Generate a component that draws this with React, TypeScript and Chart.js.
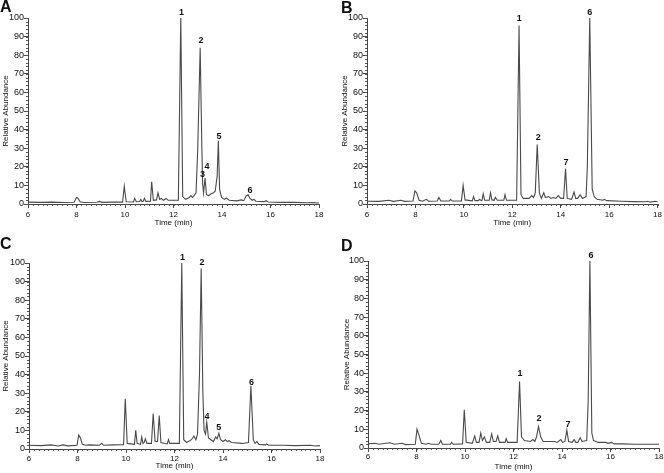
import React, { useEffect, useRef } from "react";
import { Chart, registerables } from "chart.js";

Chart.register(...registerables);

// ---------- Data (Time in min, Relative Abundance in %) ----------
const timeA = [6.0, 6.5, 7.0, 7.5, 7.9, 8.0, 8.05, 8.15, 8.3, 8.85, 8.95, 9.05, 9.5, 9.9, 9.97, 10.05, 10.35, 10.4, 10.47, 10.6, 10.65, 10.7, 10.75, 10.8, 10.86, 11.05, 11.1, 11.17, 11.3, 11.36, 11.43, 11.5, 11.58, 11.7, 11.78, 12.2, 12.3, 12.38, 12.5, 12.65, 12.72, 12.78, 12.85, 12.93, 13.0, 13.1, 13.17, 13.2, 13.24, 13.3, 13.36, 13.45, 13.55, 13.65, 13.72, 13.8, 13.85, 13.9, 13.98, 14.1, 14.17, 14.3, 14.6, 14.8, 14.9, 15.0, 15.08, 15.15, 15.25, 15.32, 15.4, 15.75, 15.82, 15.9, 16.5, 17.0, 17.5, 17.8, 17.9, 18.0];
const abundanceA = [1.0, 0.9, 1.0, 0.8, 0.9, 3.5, 3.2, 1.2, 0.8, 0.9, 1.4, 0.9, 1.0, 1.0, 9.5, 1.2, 1.1, 3.0, 1.2, 1.3, 2.5, 1.3, 1.5, 3.0, 1.4, 1.5, 12, 2.0, 2.2, 6, 2.5, 3.0, 2.0, 3.0, 2.0, 2.0, 100, 4, 2.5, 3.5, 4.5, 3.5, 4.5, 6, 30, 84, 30, 11, 6, 14, 5, 4.5, 5.5, 6, 7, 15, 34, 8, 3.5, 2.5, 3.2, 2.0, 1.7, 2.2, 1.8, 4.5, 5, 3, 2, 2.5, 1.5, 1.3, 1.8, 1.1, 0.9, 0.9, 0.7, 0.8, 0.5, 0.5];

const timeB = [6.0, 6.5, 6.9, 7.1, 7.4, 7.55, 7.9, 7.98, 8.05, 8.15, 8.3, 8.45, 8.55, 8.9, 8.97, 9.05, 9.4, 9.45, 9.52, 9.9, 9.97, 10.05, 10.35, 10.4, 10.46, 10.6, 10.65, 10.72, 10.75, 10.8, 10.86, 11.05, 11.1, 11.16, 11.25, 11.3, 11.38, 11.65, 11.7, 11.76, 12.18, 12.28, 12.36, 12.45, 12.6, 12.7, 12.8, 12.88, 12.95, 13.03, 13.12, 13.2, 13.3, 13.37, 13.5, 13.6, 13.7, 13.8, 13.9, 14.0, 14.12, 14.2, 14.27, 14.45, 14.55, 14.62, 14.7, 14.8, 14.9, 15.05, 15.1, 15.2, 15.3, 15.38, 15.5, 15.75, 15.8, 15.9, 16.5, 17.0, 17.5, 17.6, 17.7, 17.9, 18.0];
const abundanceB = [1.5, 1.4, 2.0, 1.4, 2.0, 1.4, 1.6, 7, 6, 2.0, 1.5, 2.5, 1.5, 1.6, 3.5, 1.6, 1.6, 2.5, 1.6, 1.7, 10, 2.2, 1.7, 4, 1.8, 1.8, 2.5, 1.8, 2, 5.5, 2, 2, 6, 2.2, 2, 3.5, 2, 2, 5, 2, 2, 96, 5, 3, 3, 3, 4.5, 3.5, 6, 32, 6, 3, 6, 3.5, 4, 3, 3.5, 3, 4.5, 3, 3, 19, 3, 2.5, 6.5, 3, 3, 5, 3, 4, 20, 100, 8, 4, 2.5, 2, 2.5, 1.8, 1.5, 1.3, 1.2, 1.5, 1.0, 1.5, 1.2];

const timeC = [6.0, 6.5, 6.9, 7.2, 7.4, 7.6, 7.98, 8.05, 8.12, 8.2, 8.35, 8.5, 8.9, 9.0, 9.08, 9.45, 9.9, 9.97, 10.05, 10.35, 10.4, 10.46, 10.6, 10.65, 10.7, 10.75, 10.8, 10.86, 11.05, 11.12, 11.2, 11.3, 11.37, 11.44, 11.6, 11.7, 11.75, 11.8, 12.2, 12.3, 12.38, 12.5, 12.7, 12.8, 12.88, 12.95, 13.03, 13.1, 13.17, 13.22, 13.28, 13.33, 13.4, 13.5, 13.6, 13.7, 13.76, 13.83, 13.9, 14.0, 14.1, 14.17, 14.25, 14.35, 14.8, 15.05, 15.15, 15.25, 15.32, 15.4, 15.48, 15.75, 15.8, 15.88, 16.5, 17.0, 17.6, 17.8, 18.0];
const abundanceC = [2.0, 1.8, 2.2, 1.6, 2.2, 1.7, 2.0, 7.5, 6, 2.5, 2, 2.2, 2, 3, 2, 2.2, 2.3, 27, 3, 2.5, 10, 3, 2.5, 6.5, 3, 3.5, 5.5, 3, 3, 19, 4, 4, 18, 3.5, 3, 2.8, 5, 3, 3, 100, 5, 3.5, 5, 7, 5, 8, 40, 97, 30, 10, 8, 14.5, 6, 5, 4, 6.5, 5.5, 8.5, 5, 4, 5, 4, 4.5, 3.5, 3, 3.5, 34, 5, 3, 4, 2.5, 2.2, 2.7, 2, 2, 1.8, 2.0, 1.6, 1.8];

const timeD = [6.0, 6.3, 6.45, 6.9, 7.1, 7.4, 7.55, 7.95, 8.02, 8.1, 8.2, 8.4, 8.5, 8.6, 8.92, 9.0, 9.07, 9.4, 9.45, 9.52, 9.9, 9.97, 10.05, 10.3, 10.4, 10.47, 10.58, 10.65, 10.72, 10.8, 10.88, 11.02, 11.1, 11.17, 11.28, 11.35, 11.42, 11.65, 11.7, 11.76, 11.9, 12.15, 12.25, 12.33, 12.45, 12.7, 12.8, 12.88, 12.95, 13.03, 13.12, 13.22, 13.5, 13.7, 13.8, 13.95, 14.02, 14.12, 14.2, 14.27, 14.42, 14.5, 14.57, 14.65, 14.75, 14.83, 15.02, 15.08, 15.15, 15.23, 15.3, 15.5, 15.8, 15.9, 16.05, 16.15, 16.5, 17.0, 17.5, 18.0];
const abundanceD = [2.2, 2.5, 2.0, 2.8, 2.0, 2.5, 1.8, 2, 10, 7, 2.5, 2.0, 2.5, 2.0, 2, 4, 2, 2, 3, 2, 2.2, 20.5, 3, 2.5, 6.5, 3, 3, 8, 4, 6, 3, 3, 7.5, 3.5, 3.5, 6.5, 3, 3, 5, 3, 3, 3, 35.5, 6, 4, 3.5, 4.5, 3.5, 6, 11.5, 6, 3.5, 3.5, 3.5, 3, 4.5, 3, 3.5, 9.5, 3.5, 3, 4.5, 3, 3, 5.5, 3.5, 4, 25, 100, 8, 4, 3, 3, 2.5, 3, 2.2, 2.2, 2, 2, 2];

// Peak annotations
const peakTimeA = [12.33, 13.13, 13.2, 13.38, 13.88, 15.15];
const peakLabelA = [103, 88, 16, 20, 36.5, 7.5];
const peakNameA = ["1", "2", "3", "4", "5", "6"];

const peakTimeB = [12.29, 13.07, 14.22, 15.2];
const peakLabelB = [99.5, 36, 22.5, 103];
const peakNameB = ["1", "2", "7", "6"];

const peakTimeC = [12.33, 13.13, 13.34, 13.83, 15.18];
const peakLabelC = [103, 100, 17.7, 11.3, 36];
const peakNameC = ["1", "2", "4", "5", "6"];

const peakTimeD = [12.27, 13.05, 14.25, 15.2];
const peakLabelD = [40, 15.5, 12.8, 103];
const peakNameD = ["1", "2", "7", "6"];

const xTicks = [6, 8, 10, 12, 14, 16, 18];
const yTicks = [0, 10, 20, 30, 40, 50, 60, 70, 80, 90, 100];

const FONT = "'Liberation Sans', Arial, Helvetica, sans-serif";

type Panel = {
  letter: string;
  times: number[];
  values: number[];
  peakT: number[];
  peakY: number[];
  peakN: string[];
  x: number; y: number; w: number; h: number;
  pl: number; pr: number; pt: number; pb: number;
  letterX: number; letterY: number;
  xTickPad: number; xTitlePad: number; yTitlePad: number;
};

const panels: Panel[] = [
  { letter: "A", times: timeA, values: abundanceA, peakT: peakTimeA, peakY: peakLabelA, peakN: peakNameA,
    x: 0, y: 0, w: 332, h: 236, pl: 28, pr: 319, pt: 18, pb: 204, letterX: 0, letterY: 0,
    xTickPad: 2, xTitlePad: 8, yTitlePad: 1 },
  { letter: "B", times: timeB, values: abundanceB, peakT: peakTimeB, peakY: peakLabelB, peakN: peakNameB,
    x: 332, y: 0, w: 332, h: 236, pl: 35, pr: 327, pt: 18, pb: 204, letterX: 9, letterY: 1,
    xTickPad: 2, xTitlePad: 8.5, yTitlePad: 8 },
  { letter: "C", times: timeC, values: abundanceC, peakT: peakTimeC, peakY: peakLabelC, peakN: peakNameC,
    x: 0, y: 236, w: 332, h: 237, pl: 29, pr: 320, pt: 27, pb: 213, letterX: 0, letterY: 1,
    xTickPad: 0.5, xTitlePad: 2, yTitlePad: 1 },
  { letter: "D", times: timeD, values: abundanceD, peakT: peakTimeD, peakY: peakLabelD, peakN: peakNameD,
    x: 332, y: 236, w: 332, h: 237, pl: 36, pr: 327, pt: 25, pb: 212, letterX: 9, letterY: 3,
    xTickPad: 0, xTitlePad: 1.5, yTitlePad: 9.5 },
];

function ChromPanel({ p }: { p: Panel }) {
  const ref = useRef<HTMLCanvasElement | null>(null);
  useEffect(() => {
    if (!ref.current) return;
    const data = p.times.map((t, i) => ({ x: t, y: p.values[i] }));
    const decor = {
      id: "decor" + p.letter,
      afterDraw(chart: any) {
        const ctx = chart.ctx;
        const xs = chart.scales.x;
        const ys = chart.scales.y;
        const area = chart.chartArea;
        ctx.save();
        // minor ticks
        ctx.strokeStyle = "#555";
        ctx.lineWidth = 1;
        ctx.beginPath();
        for (let i = 0; i <= 60; i++) {
          const px = Math.round(xs.getPixelForValue(6 + i * 0.2)) + 0.5;
          ctx.moveTo(px, area.bottom);
          ctx.lineTo(px, area.bottom + 2);
        }
        for (let i = 0; i <= 50; i++) {
          const py = Math.round(ys.getPixelForValue(i * 2)) + 0.5;
          ctx.moveTo(area.left - 2, py);
          ctx.lineTo(area.left, py);
        }
        ctx.stroke();
        // peak labels
        ctx.fillStyle = "#111";
        ctx.font = "bold 9px " + FONT;
        ctx.textAlign = "center";
        ctx.textBaseline = "middle";
        p.peakT.forEach((t, i) => {
          ctx.fillText(p.peakN[i], xs.getPixelForValue(t), ys.getPixelForValue(p.peakY[i]));
        });
        // panel letter
        ctx.font = "bold 16px " + FONT;
        ctx.textAlign = "left";
        ctx.textBaseline = "top";
        ctx.fillText(p.letter, p.letterX, p.letterY);
        ctx.restore();
      },
    };
    const chart = new Chart(ref.current, {
      type: "line",
      data: {
        datasets: [
          {
            data,
            borderColor: "#4a4a4a",
            borderWidth: 1.1,
            pointRadius: 0,
            tension: 0,
            fill: false,
            clip: false as any,
          },
        ],
      },
      options: {
        animation: false,
        responsive: false,
        devicePixelRatio: 1,
        events: [],
        layout: { padding: { left: 0, right: p.w - p.pr, top: p.pt, bottom: 0 } },
        plugins: { legend: { display: false }, tooltip: { enabled: false } },
        scales: {
          x: {
            type: "linear",
            min: 6,
            max: 18,
            afterBuildTicks: (s: any) => { s.ticks = xTicks.map((v) => ({ value: v })); },
            afterFit: (s: any) => { s.height = p.h - p.pb; },
            grid: { drawOnChartArea: false, tickLength: 4, color: "#444", tickColor: "#444" },
            border: { display: true, color: "#444", width: 1 },
            ticks: { color: "#111", font: { family: FONT, size: 8 }, padding: p.xTickPad, maxRotation: 0, autoSkip: false },
            title: { display: true, text: "Time (min)", color: "#111", font: { family: FONT, size: 8 }, padding: { top: 0, bottom: p.xTitlePad } },
          },
          y: {
            type: "linear",
            min: 0,
            max: 100,
            afterBuildTicks: (s: any) => { s.ticks = yTicks.map((v) => ({ value: v })); },
            afterFit: (s: any) => { s.width = p.pl; },
            grid: { drawOnChartArea: false, tickLength: 4, color: "#444", tickColor: "#444" },
            border: { display: true, color: "#444", width: 1 },
            ticks: { color: "#111", font: { family: FONT, size: 9 }, padding: 0, autoSkip: false },
            title: { display: true, text: "Relative Abundance", color: "#111", font: { family: FONT, size: 8 }, padding: { top: p.yTitlePad, bottom: 0 } },
          },
        },
      },
      plugins: [decor],
    } as any);
    return () => chart.destroy();
  }, [p]);
  return (
    <div style={{ position: "absolute", left: p.x, top: p.y, width: p.w, height: p.h }}>
      <canvas ref={ref} width={p.w} height={p.h} style={{ display: "block", width: p.w, height: p.h }} />
    </div>
  );
}

export default function App() {
  return (
    <div style={{ position: "absolute", left: 0, top: 0, width: 664, height: 473, background: "#fff" }}>
      {panels.map((p) => (
        <ChromPanel key={p.letter} p={p} />
      ))}
    </div>
  );
}
